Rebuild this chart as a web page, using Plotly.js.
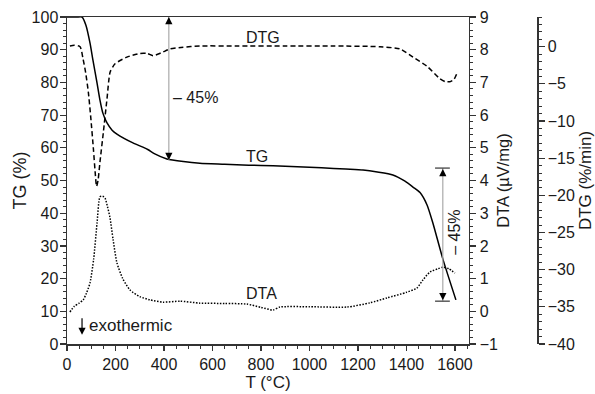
<!DOCTYPE html>
<html>
<head>
<meta charset="utf-8">
<script src="https://cdn.plot.ly/plotly-3.0.1.min.js"></script>
<style>html,body{margin:0;padding:0;background:#fff;}#chart{width:595px;height:394px;}</style>
</head>
<body>
<div id="chart"></div>
<script>
// TG (%) vs T (°C)
const tgT = [0, 40, 62, 78, 95, 107, 124, 136, 148, 165, 186, 206, 272, 313, 335, 360, 412, 480, 548, 650, 750, 850, 950, 1050, 1150, 1221, 1280, 1344, 1394, 1427, 1456, 1485, 1509, 1551, 1604];
const tgV = [100, 100, 100, 97.5, 92, 86.8, 79.8, 74.6, 70.6, 67.6, 65.4, 64.2, 61.5, 60.2, 59.4, 58.2, 56.6, 55.8, 55.3, 55.0, 54.7, 54.5, 54.2, 53.9, 53.5, 53.2, 52.6, 51.7, 49.8, 48.0, 46.3, 42.5, 37.0, 25.8, 13.5];

// DTG (%/min) vs T (°C)
const dtgT = [12, 30, 54, 66, 77, 88, 98, 109, 116, 122, 128, 136, 150, 165, 178, 198, 247, 301, 330, 355, 390, 425, 470, 548, 700, 900, 1100, 1290, 1373, 1427, 1484, 1538, 1560, 1579, 1596, 1608];
const dtgV = [0.1, 0.2, 0, -1.6, -3.5, -6.1, -9.5, -13.8, -16.8, -18.8, -18.0, -15.5, -11.5, -7.0, -3.4, -2.3, -1.4, -0.9, -0.9, -1.2, -0.8, -0.3, -0.1, 0.1, 0.1, 0.1, 0.1, 0.0, -0.3, -1.4, -2.6, -4.3, -4.7, -4.7, -4.4, -3.6];

// DTA (µV/mg) vs T (°C)
const dtaT = [12, 30, 50, 67, 80, 95, 110, 124, 136, 147, 157, 167, 177, 190, 206, 230, 260, 300, 342, 396, 466, 548, 650, 742, 800, 850, 878, 1000, 1155, 1250, 1320, 1400, 1443, 1468, 1497, 1530, 1551, 1575, 1600];
const dtaV = [-0.02, 0.15, 0.25, 0.35, 0.55, 0.87, 1.6, 2.7, 3.5, 3.52, 3.46, 3.2, 2.88, 2.2, 1.48, 1.0, 0.65, 0.45, 0.35, 0.28, 0.31, 0.25, 0.24, 0.22, 0.12, 0.04, 0.13, 0.14, 0.13, 0.26, 0.41, 0.58, 0.71, 0.96, 1.2, 1.3, 1.35, 1.3, 1.17];

const xTickVals = [0, 200, 400, 600, 800, 1000, 1200, 1400, 1600];
const tgTickVals = [0, 10, 20, 30, 40, 50, 60, 70, 80, 90, 100];
const dtaTickVals = [-1, 0, 1, 2, 3, 4, 5, 6, 7, 8, 9];
const dtgTickVals = [-40, -35, -30, -25, -20, -15, -10, -5, 0];

const FONT = 'Liberation Sans, Arial, sans-serif';
const AX = '#333';
const TXT = '#1a1a1a';

const traces = [
  {x: tgT, y: tgV, type: 'scatter', mode: 'lines', line: {color: '#000', width: 1.5, shape: 'spline', smoothing: 0.6}, yaxis: 'y', name: 'TG'},
  {x: dtgT, y: dtgV, type: 'scatter', mode: 'lines', line: {color: '#000', width: 1.5, dash: '5px,3px', shape: 'spline', smoothing: 0.6}, yaxis: 'y3', name: 'DTG'},
  {x: dtaT, y: dtaV, type: 'scatter', mode: 'lines', line: {color: '#000', width: 1.5, dash: '1.5px,1.5px', shape: 'spline', smoothing: 0.6}, yaxis: 'y2', name: 'DTA'}
];

const leftArrowX = 420, leftTop = 100, leftBot = 56.3;
const rightArrowX = 1550, rightTop = 53.8, rightBot = 13.1;

const layout = {
  width: 595, height: 394,
  margin: {l: 67, r: 58, t: 17, b: 50, pad: 0},
  paper_bgcolor: '#fff', plot_bgcolor: '#fff',
  showlegend: false,
  font: {family: FONT, size: 16, color: TXT},
  xaxis: {
    domain: [0, 0.8553], range: [0, 1658], tickvals: xTickVals,
    showgrid: false, zeroline: false, showline: true, mirror: true, linecolor: AX, linewidth: 1.5,
    ticks: 'outside', ticklen: 5, tickwidth: 1.2, tickcolor: AX,
    minor: {dtick: 50, ticks: 'outside', ticklen: 3, tickcolor: AX, tickwidth: 1},
    tickfont: {size: 16}, title: {text: 'T (°C)', font: {size: 17}, standoff: 3}, automargin: false
  },
  yaxis: {
    range: [0, 100], tickvals: tgTickVals, ticklabelstandoff: -2,
    showgrid: false, zeroline: false, showline: true, linecolor: AX, linewidth: 1.5,
    ticks: 'outside', ticklen: 6, tickwidth: 1.2, tickcolor: AX,
    minor: {dtick: 2, ticks: 'outside', ticklen: 3, tickcolor: AX, tickwidth: 1},
    tickfont: {size: 16}, title: {text: 'TG (%)', font: {size: 18}, standoff: 0}, automargin: false
  },
  yaxis2: {
    range: [-1, 9], tickvals: dtaTickVals, overlaying: 'y', side: 'right', anchor: 'x',
    showgrid: false, zeroline: false, showline: true, linecolor: AX, linewidth: 1.5,
    ticks: 'outside', ticklen: 6, tickwidth: 1.2, tickcolor: AX,
    minor: {dtick: 0.2, ticks: 'outside', ticklen: 3, tickcolor: AX, tickwidth: 1},
    tickfont: {size: 16}, title: {text: 'DTA (µV/mg)', font: {size: 16.5}, standoff: 0}, automargin: false
  },
  yaxis3: {
    range: [-40, 4], tickvals: dtgTickVals, overlaying: 'y', side: 'right', anchor: 'free', position: 1,
    showgrid: false, zeroline: false, showline: true, linecolor: AX, linewidth: 1.5,
    ticks: 'outside', ticklen: 6, tickwidth: 1.2, tickcolor: AX,
    minor: {dtick: 1, ticks: 'outside', ticklen: 3, tickcolor: AX, tickwidth: 1},
    tickfont: {size: 16}, title: {text: 'DTG (%/min)', font: {size: 17}, standoff: 10}, automargin: false
  },
  shapes: [
    {type: 'line', xref: 'x', yref: 'y', x0: leftArrowX, x1: leftArrowX, y0: leftTop, y1: leftBot, line: {color: '#aaa', width: 1.2}},
    {type: 'line', xref: 'x', yref: 'y', x0: rightArrowX, x1: rightArrowX, y0: rightTop, y1: rightBot, line: {color: '#aaa', width: 1.2}},
    {type: 'line', xref: 'x', yref: 'y', x0: 1518, x1: 1579, y0: rightTop, y1: rightTop, line: {color: '#333', width: 1.2}},
    {type: 'line', xref: 'x', yref: 'y', x0: 1518, x1: 1579, y0: rightBot, y1: rightBot, line: {color: '#333', width: 1.2}}
  ],
  annotations: [
    {x: leftArrowX, y: leftTop, xref: 'x', yref: 'y', ax: 0, ay: 8, text: '', showarrow: true, arrowhead: 2, arrowsize: 1.2, arrowwidth: 1.2, arrowcolor: '#000'},
    {x: leftArrowX, y: leftBot, xref: 'x', yref: 'y', ax: 0, ay: -8, text: '', showarrow: true, arrowhead: 2, arrowsize: 1.2, arrowwidth: 1.2, arrowcolor: '#000'},
    {x: rightArrowX, y: rightTop, xref: 'x', yref: 'y', ax: 0, ay: 8, text: '', showarrow: true, arrowhead: 2, arrowsize: 1.2, arrowwidth: 1.2, arrowcolor: '#000', standoff: 1},
    {x: rightArrowX, y: rightBot, xref: 'x', yref: 'y', ax: 0, ay: -8, text: '', showarrow: true, arrowhead: 2, arrowsize: 1.2, arrowwidth: 1.2, arrowcolor: '#000', standoff: 1},
    {x: 62, y: 2.8, xref: 'x', yref: 'y', ax: 0, ay: -18, text: '', showarrow: true, arrowhead: 2, arrowsize: 1.2, arrowwidth: 1.2, arrowcolor: '#000'},
    {x: 82, y: 5.8, xref: 'x', yref: 'y', text: 'exothermic', showarrow: false, xanchor: 'left', yanchor: 'middle', font: {size: 17, color: TXT}},
    {x: 532, y: 75.5, xref: 'x', yref: 'y', text: '– 45%', showarrow: false, font: {size: 16, color: TXT}},
    {x: 1600, y: 34.3, xref: 'x', yref: 'y', text: '– 45%', textangle: -90, showarrow: false, font: {size: 16, color: TXT}},
    {x: 808, y: 93.6, xref: 'x', yref: 'y', text: 'DTG', showarrow: false, font: {size: 16, color: TXT}},
    {x: 783, y: 57.2, xref: 'x', yref: 'y', text: 'TG', showarrow: false, font: {size: 16, color: TXT}},
    {x: 804, y: 15.3, xref: 'x', yref: 'y', text: 'DTA', showarrow: false, font: {size: 16, color: TXT}}
  ]
};

Plotly.newPlot('chart', traces, layout, {displayModeBar: false, staticPlot: true});
</script>
</body>
</html>
